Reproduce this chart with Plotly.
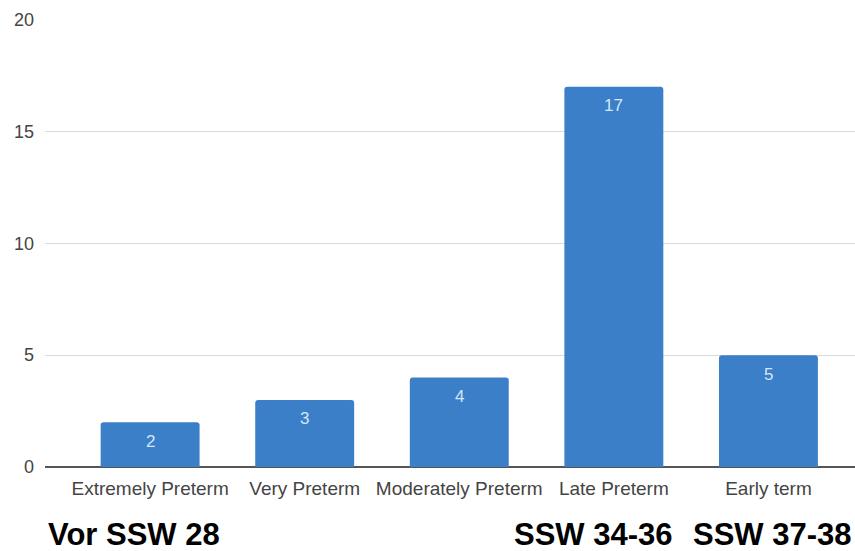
import plotly.graph_objects as go

categories = ["Extremely Preterm", "Very Preterm", "Moderately Preterm", "Late Preterm", "Early term"]
values = [2, 3, 4, 17, 5]
y_ticks = [0, 5, 10, 15, 20]
group_labels = ["Vor SSW 28", "SSW 34-36", "SSW 37-38"]
group_positions = [0, 3, 4]

FONT = "Liberation Sans, Arial, sans-serif"
xs = list(range(len(categories)))

fig = go.Figure()
fig.add_trace(go.Bar(
    x=xs,
    y=values,
    width=0.64,
    marker=dict(color="#3a7fc8", cornerradius=3, line=dict(width=0)),
    hoverinfo="x+y",
))

# value labels inside the bars, near the top
for x, v in zip(xs, values):
    fig.add_annotation(
        x=x, y=v, xref="x", yref="y", yanchor="middle", yshift=-19,
        text=str(v), showarrow=False,
        font=dict(family=FONT, size=17, color="#d6e6f7"),
    )

for lbl, pos, dx in zip(group_labels, group_positions, [-16, -20, 4]):
    fig.add_annotation(
        x=pos, y=0, xref="x", yref="y", yanchor="middle",
        yshift=-67, xshift=dx,
        text="<b>" + lbl + "</b>", showarrow=False,
        font=dict(family=FONT, size=31, color="#000000"),
    )

fig.update_layout(
    width=855, height=551,
    margin=dict(l=45, r=0, t=19, b=84),
    paper_bgcolor="white", plot_bgcolor="white",
    showlegend=False,
    xaxis=dict(
        range=[-0.68, 4.56],
        tickvals=xs,
        ticktext=categories,
        showgrid=False, zeroline=False, showline=False,
        tickfont=dict(family=FONT, size=19, color="#444444"),
        ticks="", ticklabelstandoff=8,
    ),
    yaxis=dict(
        range=[0, 20.03],
        tickvals=y_ticks,
        showgrid=True, gridcolor="#d9d9d9", gridwidth=1,
        zeroline=True, zerolinecolor="#555555", zerolinewidth=2,
        showline=False, ticks="",
        tickfont=dict(family=FONT, size=18, color="#444444"),
        ticklabelstandoff=10,
    ),
)

fig.write_html(
    "out.html",
    config={"displayModeBar": False},
    post_script="document.body.style.margin='0';document.body.style.padding='0';",
)
